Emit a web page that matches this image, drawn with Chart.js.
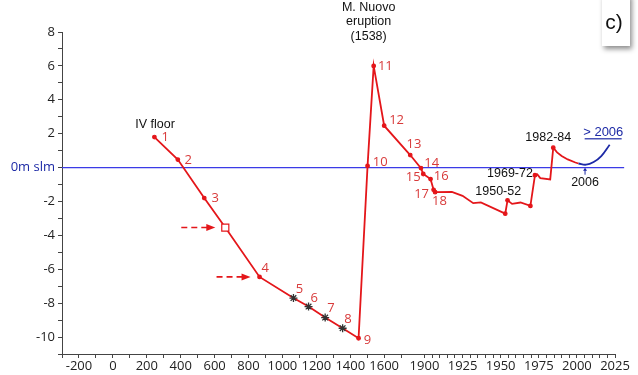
<!DOCTYPE html>
<html>
<head>
<meta charset="utf-8">
<script src="https://cdn.jsdelivr.net/npm/chart.js@4/dist/chart.umd.min.js"></script>
<style>
  html, body { margin: 0; padding: 0; background: #fff; }
  #wrap { width: 638px; height: 375px; }
</style>
</head>
<body>
<div id="wrap"><canvas id="grafico"></canvas></div>
<script>
// quota del suolo (m s.l.m.) nel tempo
const anni = [245, 383, 539, 663, 865, 1065, 1154, 1252, 1355, 1449, 1502, 1538, 1600, 1778, 1870, 1890,
  1904, 1906, 1907, 1918, 1925, 1932, 1937, 1953, 1954.5, 1957.5, 1963, 1969.5, 1972.5, 1974, 1976,
  1982.5, 1984.5, 1987, 1990, 1994, 1999, 2001];
const quote = [1.8, 0.47, -1.8, -3.54, -6.45, -7.7, -8.2, -8.85, -9.48, -10.07, 0.1, 6.0, 2.47, 0.74, -0.03, -0.38,
  -0.68, -1.31, -1.45, -1.43, -1.67, -2.1, -2.05, -2.72, -1.93, -2.14, -2.06, -2.26, -0.45, -0.4, -0.62,
  -0.7, 1.17, 0.9, 0.68, 0.48, 0.3, 0.24];
const numeri = ['1', '2', '3', '', '4', '5', '6', '7', '8', '9', '10', '11', '12', '13', '14', '15', '16', '17', '18'];

// tendenza dopo il 2006
const anniPrev = [2001, 2006, 2011, 2016, 2021.5];
const quotePrev = [0.24, 0.17, 0.33, 0.68, 1.35];

const tickAntichi = [-200, 0, 200, 400, 600, 800, 1000, 1200, 1400, 1600];
const tickModerni = [1900, 1925, 1950, 1975, 2000, 2025];

// stili dei marker e posizione delle etichette
const ROSSO = '#e4161a';
const ROSSO_TESTO = '#d83a3a';
const BLU = '#3b3be6';
const BLU_SCURO = '#1d2aa6';
const stelle = [5, 6, 7, 8];
const quadrato = 3;
const puntiExtra = [23, 24, 27, 28, 32];
const offNumeri = {
  1: [10.7, 0], 2: [10.3, 1], 3: [11, 0], 4: [5.7, -9], 5: [6, -9], 6: [5.7, -8.7], 7: [5.7, -9.7],
  8: [5.4, -9], 9: [9, 2], 10: [12.7, -4], 11: [11.7, 0.7], 12: [12.4, -5], 13: [3.7, -10.3],
  14: [10.7, -4.6], 15: [-10, 3.4], 16: [10.7, -3.3], 17: [-12, 5], 18: [4.3, 9.4]
};

// asse x spezzato: lineare fino al 1700, compresso fino al 1900, poi dilatato
function asse(a) {
  if (a <= 1700) return a;
  if (a <= 1900) return 1700 + (a - 1700) * 0.6873;
  return 1837.5 + (a - 1900) * 8.99;
}
function anno(u) {
  if (u <= 1700) return u;
  if (u <= 1837.5) return 1700 + (u - 1700) / 0.6873;
  return 1900 + (u - 1837.5) / 8.99;
}

const annotazioni = {
  id: 'annotazioni',
  afterDatasetsDraw(chart) {
    const { ctx } = chart;
    const x = chart.scales.x, y = chart.scales.y;
    const pt = (a, v) => [x.getPixelForValue(asse(a)), y.getPixelForValue(v)];
    const p = i => pt(anni[i], quote[i]);

    ctx.save();
    ctx.textAlign = 'center';
    ctx.textBaseline = 'middle';

    // numeri dei punti
    ctx.font = '13px "Open Sans"';
    ctx.fillStyle = ROSSO_TESTO;
    numeri.forEach((n, i) => {
      if (!n) return;
      const [px, py] = p(i);
      const o = offNumeri[n];
      ctx.fillText(n, px + o[0], py + o[1]);
    });

    // testi neri
    ctx.font = '12.5px "Liberation Sans"';
    ctx.fillStyle = '#111';
    const scrivi = (t, base, dx, dy) => ctx.fillText(t, base[0] + dx, base[1] + dy);
    scrivi('IV floor', p(0), 0.7, -12.7);
    scrivi('M. Nuovo', p(11), -5, -58);
    scrivi('eruption', p(11), -5, -44);
    scrivi('(1538)', p(11), -5, -29);
    scrivi('1950-52', p(23), -7, -22);
    scrivi('1969-72', p(28), -25, -2);
    scrivi('1982-84', p(32), -5, -10);
    const p2006 = pt(anniPrev[1], quotePrev[1]);
    scrivi('2006', p2006, -1, 18);

    // freccetta blu sul 2006
    ctx.strokeStyle = BLU_SCURO;
    ctx.fillStyle = BLU_SCURO;
    ctx.lineWidth = 1;
    ctx.beginPath();
    ctx.moveTo(p2006[0] - 1, p2006[1] + 10);
    ctx.lineTo(p2006[0] - 1, p2006[1] + 5);
    ctx.stroke();
    ctx.beginPath();
    ctx.moveTo(p2006[0] - 1, p2006[1] + 3);
    ctx.lineTo(p2006[0] - 3, p2006[1] + 6);
    ctx.lineTo(p2006[0] + 1, p2006[1] + 6);
    ctx.fill();

    // "> 2006" sottolineato
    const pUlt = pt(anniPrev[4], quotePrev[4]);
    ctx.fillStyle = BLU_SCURO;
    ctx.font = '13px "Liberation Sans"';
    ctx.fillText('> 2006', pUlt[0] - 6.4, pUlt[1] - 12.5);
    ctx.fillRect(pUlt[0] - 25, pUlt[1] - 6.5, 37, 1.2);

    // frecce tratteggiate rosse
    const freccia = (base, dx) => {
      const xe = base[0] + dx, ye = base[1];
      ctx.strokeStyle = ROSSO;
      ctx.fillStyle = ROSSO;
      ctx.lineWidth = 1.6;
      ctx.setLineDash([6, 4]);
      ctx.beginPath();
      ctx.moveTo(xe - 34, ye);
      ctx.lineTo(xe - 8, ye);
      ctx.stroke();
      ctx.setLineDash([]);
      ctx.beginPath();
      ctx.moveTo(xe, ye);
      ctx.lineTo(xe - 9, ye - 3.5);
      ctx.lineTo(xe - 9, ye + 3.5);
      ctx.closePath();
      ctx.fill();
    };
    freccia(p(3), -10);
    freccia(p(4), -9);

    // riquadro "c)"
    ctx.save();
    ctx.shadowColor = 'rgba(0,0,0,0.45)';
    ctx.shadowBlur = 5;
    ctx.shadowOffsetX = 2;
    ctx.shadowOffsetY = 3;
    ctx.fillStyle = '#fff';
    ctx.fillRect(602, -6, 28, 52);
    ctx.restore();
    ctx.fillStyle = '#111';
    ctx.font = '21px "Liberation Sans"';
    ctx.fillText('c)', 614, 23);
    ctx.restore();
  }
};

new Chart(document.getElementById('grafico'), {
  type: 'line',
  data: {
    datasets: [
      {
        data: anni.map((a, i) => ({ x: asse(a), y: quote[i] })),
        borderColor: ROSSO,
        borderWidth: 1.8,
        tension: 0,
        pointStyle: c => stelle.includes(c.dataIndex) ? 'star' : c.dataIndex === quadrato ? 'rect' : 'circle',
        pointRadius: c => stelle.includes(c.dataIndex) ? 4 : c.dataIndex === quadrato ? 5
          : (numeri[c.dataIndex] || puntiExtra.includes(c.dataIndex)) ? 1.8 : 0,
        pointBorderColor: c => stelle.includes(c.dataIndex) ? '#333' : ROSSO,
        pointBackgroundColor: c => c.dataIndex === quadrato ? '#fff' : ROSSO,
        pointBorderWidth: c => stelle.includes(c.dataIndex) ? 1.3 : 1.2
      },
      {
        data: anniPrev.map((a, i) => ({ x: asse(a), y: quotePrev[i] })),
        borderColor: BLU_SCURO,
        borderWidth: 1.8,
        tension: 0.4,
        pointRadius: 0
      },
      {
        // livello del mare
        data: [{ x: -300, y: 0 }, { x: asse(2031), y: 0 }],
        borderColor: BLU,
        borderWidth: 1.1,
        pointRadius: 0,
        clip: false
      }
    ]
  },
  options: {
    responsive: true,
    maintainAspectRatio: false,
    animation: false,
    events: [],
    layout: { padding: { top: 32, right: 23, left: 0, bottom: 0 } },
    plugins: { legend: { display: false }, tooltip: { enabled: false } },
    scales: {
      x: {
        type: 'linear',
        min: -300,
        max: asse(2025),
        afterFit: s => { s.height = 21; },
        afterBuildTicks: s => {
          const v = [];
          for (let a = -300; a <= 1700; a += 100) v.push(asse(a));
          for (let a = 1900; a <= 2025; a += 5) v.push(asse(a));
          s.ticks = v.map(value => ({ value }));
        },
        grid: { drawOnChartArea: false, tickLength: 4, color: '#444' },
        border: { color: '#444', width: 1 },
        ticks: {
          autoSkip: false,
          maxRotation: 0,
          padding: 0,
          color: '#222',
          font: { family: '"Open Sans"', size: 13 },
          callback: value => {
            const a = Math.round(anno(value));
            return (tickAntichi.includes(a) || tickModerni.includes(a)) ? String(a) : '';
          }
        }
      },
      y: {
        min: -11,
        max: 8,
        afterFit: s => { s.width = 62; },
        grid: { drawOnChartArea: false, tickLength: 4, color: '#444' },
        border: { color: '#444', width: 1 },
        ticks: {
          stepSize: 1,
          autoSkip: false,
          padding: 3,
          font: { family: '"Open Sans"', size: 13 },
          color: c => c.tick.value === 0 ? BLU_SCURO : '#222',
          callback: v => v === 0 ? '0m slm' : (v % 2 === 0 ? String(v) : '')
        }
      }
    }
  },
  plugins: [annotazioni]
});
</script>
</body>
</html>
